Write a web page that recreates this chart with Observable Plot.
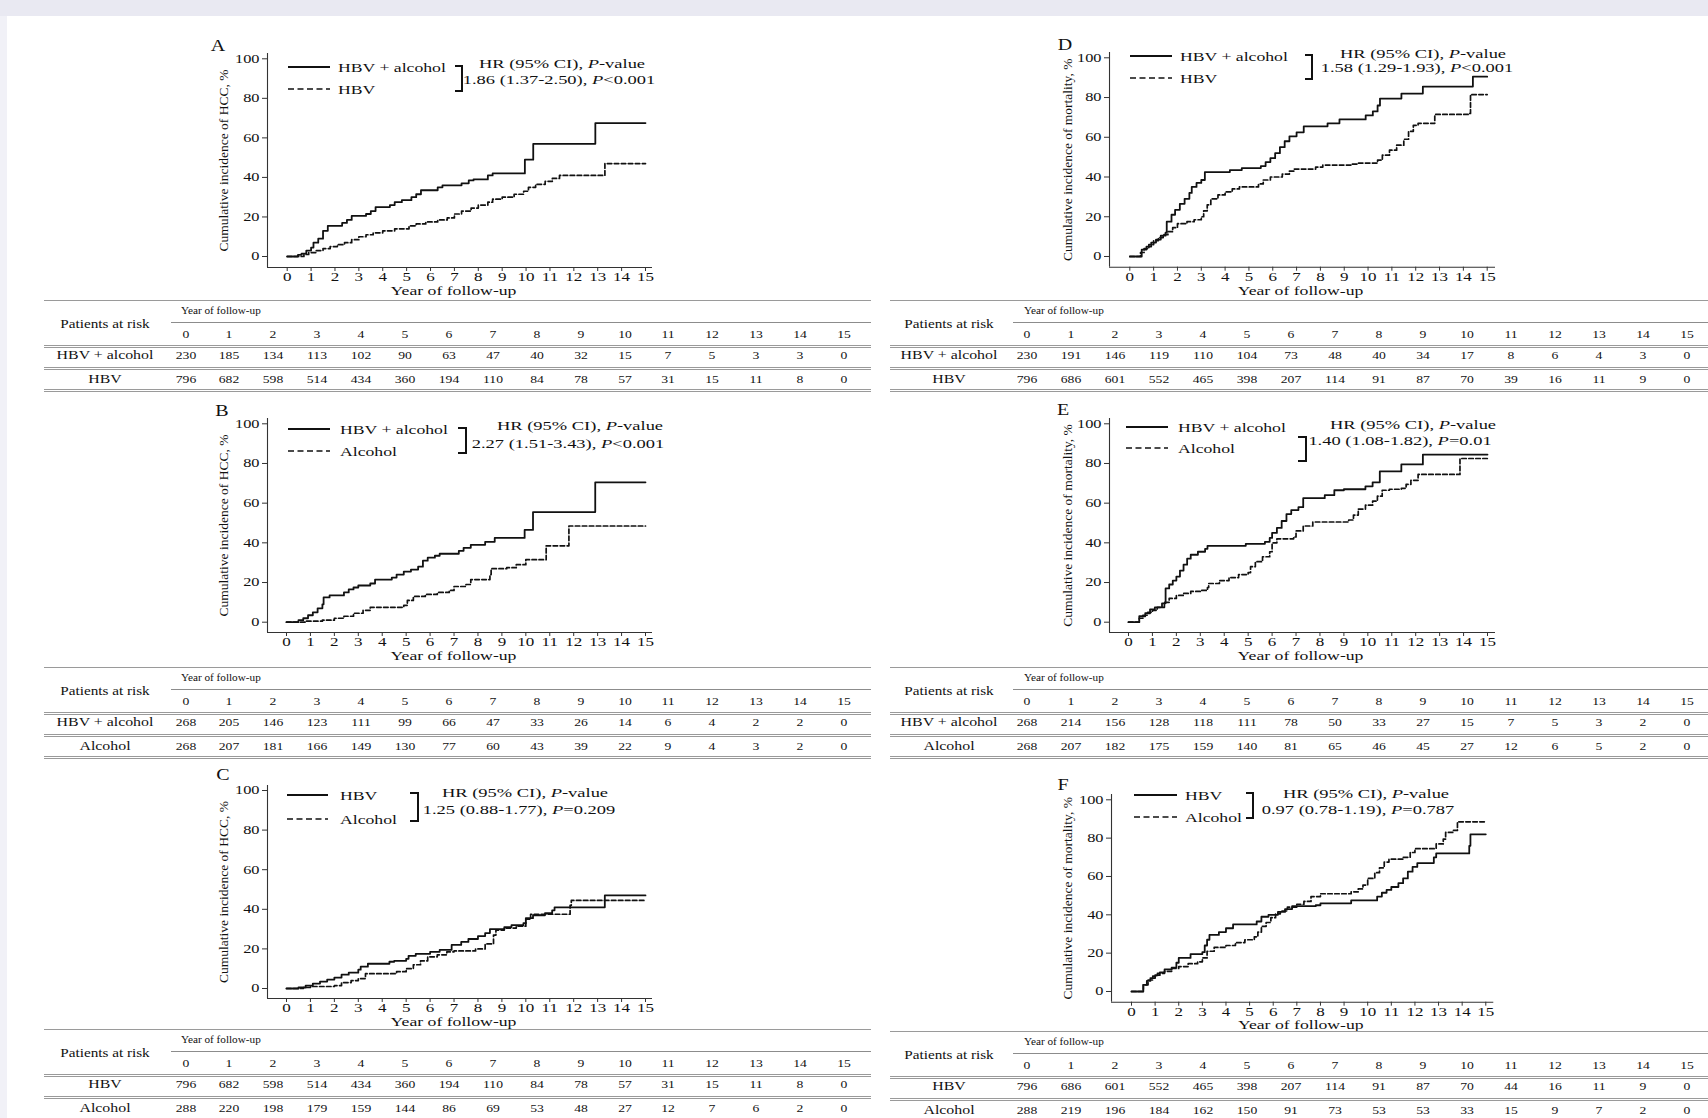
<!DOCTYPE html>
<html><head><meta charset="utf-8">
<script src="https://cdn.jsdelivr.net/npm/d3@7"></script>
<script src="https://cdn.jsdelivr.net/npm/@observablehq/plot@0.6"></script>
<style>
html,body{margin:0;padding:0;background:#fff;}
#page{position:relative;width:1708px;height:1118px;overflow:hidden;background:#fff;font-family:'Liberation Serif','Times New Roman',serif;color:#111;}
.t{position:absolute;white-space:nowrap;line-height:1;}
.rule{position:absolute;height:0;}
</style></head><body><div id="page"></div>
<script>
// ---------------- DATA ----------------
const years = [0,1,2,3,4,5,6,7,8,9,10,11,12,13,14,15];
const yTicks = [0,20,40,60,80,100];

// Panel A: HCC, HBV + alcohol vs HBV
const hccA_hbvAlc = [[0,0],[0.45,0.8],[0.6,1.5],[0.8,3],[1.0,4.5],[1.1,7],[1.3,9],[1.5,13],[1.7,15.5],[2.3,17],[2.5,18.5],[2.7,20.5],[3.3,21.5],[3.5,23],[3.7,25],[4.3,26],[4.5,27.5],[4.8,28.5],[5.2,30],[5.4,31.5],[5.6,33.5],[6.3,35],[6.5,36],[7.3,37],[7.6,38.5],[7.8,39],[8.4,41],[8.6,42],[9.95,49],[10.3,57],[12.9,67.5],[15,67.5]];
const hccA_hbv = [[0,0],[0.7,1],[0.9,2],[1.2,3],[1.5,4],[1.8,5],[2.1,6],[2.4,7],[2.7,8.5],[3.0,10],[3.3,11],[3.6,12],[4.0,13],[4.5,14],[5.1,15.5],[5.4,16.5],[5.8,17.5],[6.3,18.5],[6.7,19.5],[7.0,21.5],[7.3,23],[7.7,24.5],[8.0,26],[8.4,27.5],[8.6,29],[9.0,30],[9.5,31.5],[9.9,33],[10.1,35],[10.4,36.5],[10.8,38],[11.1,39.5],[11.4,41],[13.2,41],[13.3,47],[15,47]];
// Panel B: HCC, HBV + alcohol vs Alcohol
const hccB_hbvAlc = [[0,0],[0.5,1],[0.7,2],[0.9,3.5],[1.1,5],[1.3,7],[1.5,9],[1.55,12.5],[1.8,13.5],[2.4,15],[2.6,16.5],[2.8,17.5],[3.0,18.5],[3.5,19.5],[3.7,21.5],[4.4,22.5],[4.6,24],[4.9,25.5],[5.2,26.5],[5.5,28],[5.7,31],[5.9,32.5],[6.2,33.5],[6.4,34.5],[7.2,36],[7.4,37.5],[7.7,39],[8.3,40.5],[8.7,42.5],[9.95,46.5],[10.3,55.5],[12.9,70.5],[15,70.5]];
const hccB_alc = [[0,0],[0.8,0.5],[1.5,1],[2.0,2],[2.4,3],[2.8,4.5],[3.2,6],[3.5,7.5],[4.9,8.5],[5.05,11],[5.3,13],[5.8,14],[6.3,15],[6.8,16],[7.0,18],[7.5,19],[7.7,21.5],[8.5,24],[8.55,27],[9.2,27.5],[9.6,29],[10.0,31.5],[10.85,38.5],[11.8,48.5],[15,48.5]];
// Panel C: HCC, HBV vs Alcohol
const hccC_hbv = [[0,0],[0.5,0.5],[0.8,1.5],[1.1,2.5],[1.4,3.5],[1.7,4.5],[2.0,5.5],[2.3,7],[2.6,8],[3.0,9.5],[3.1,11],[3.4,12.5],[4.3,13.5],[4.5,14],[5.0,15],[5.1,16.5],[5.4,17.5],[6.0,18.5],[6.4,19.5],[6.9,22],[7.3,23.5],[7.6,25],[8.0,26.5],[8.3,28],[8.5,30],[9.1,31],[9.4,32],[9.9,33],[10.0,35.5],[10.3,37],[10.8,38],[11.1,39.5],[11.2,41],[13.2,41],[13.3,47],[15,47]];
const hccC_alc = [[0,0],[0.7,0.5],[1.0,1],[2.0,1.5],[2.3,3],[2.7,4],[3.0,5],[3.3,7.5],[4.6,8.5],[5.0,10],[5.3,12],[5.6,14],[5.9,16],[6.3,17],[6.7,18.5],[7.0,19],[7.9,20],[8.3,22.5],[8.65,27],[8.75,29.5],[9.1,30.5],[9.6,31.5],[10.0,35],[10.2,37.5],[11.85,42],[11.9,44.5],[15,44.5]];
// Panel D: mortality, HBV + alcohol vs HBV
const mortD_hbvAlc = [[0,0],[0.5,3.5],[0.7,5],[0.9,7],[1.1,8.5],[1.3,10.5],[1.5,12],[1.55,17.5],[1.75,21],[1.9,23.5],[2.1,26.5],[2.3,29],[2.5,32],[2.6,35],[2.8,37],[3.0,38.5],[3.15,42.5],[4.2,43.5],[4.7,44.5],[5.5,45.5],[5.7,47.5],[5.9,49.5],[6.1,52],[6.3,55],[6.5,58],[6.7,60.5],[7.0,62.5],[7.3,65.5],[8.3,67],[8.8,69],[9.9,71],[10.2,73],[10.4,76],[10.5,79.5],[11.4,82],[12.3,85.5],[14.4,90.5],[15,90.5]];
const mortD_hbv = [[0,0],[0.45,2],[0.6,4],[0.8,6],[1.0,8],[1.2,9.5],[1.4,11],[1.6,12.5],[1.8,14.5],[2.0,16.5],[2.4,17.5],[2.7,18.5],[3.0,20],[3.1,23],[3.25,26],[3.4,29],[3.7,31],[4.0,32.5],[4.3,34],[4.6,35],[5.4,36.5],[5.6,38.5],[5.9,40],[6.4,41.5],[6.7,43],[6.9,44],[7.8,45],[8.1,46],[9.3,46.5],[9.6,47],[10.4,48.5],[10.6,51],[10.9,53.5],[11.2,56],[11.5,59],[11.7,63],[11.9,66],[12.1,67],[12.8,71.5],[14.2,72],[14.3,81.5],[15,81.5]];
// Panel E: mortality, HBV + alcohol vs Alcohol
const mortE_hbvAlc = [[0,0],[0.45,3],[0.7,4.5],[0.9,6.5],[1.1,7.5],[1.4,9.5],[1.55,17],[1.7,19],[1.85,21],[2.0,23],[2.15,26],[2.3,29],[2.45,32],[2.6,34],[2.9,35.5],[3.2,37],[3.3,38.5],[4.9,39.5],[5.7,40.5],[5.9,42.5],[6.0,45],[6.2,47.5],[6.4,51],[6.6,54.5],[6.8,56.5],[7.1,58],[7.3,62.5],[8.2,64],[8.6,66.5],[9.0,67],[9.9,68.5],[10.2,70.5],[10.5,76],[11.4,79.5],[12.3,84.5],[15,84.5]];
const mortE_alc = [[0,0],[0.45,2],[0.6,3.5],[0.8,5],[1.0,6],[1.2,7.5],[1.5,10],[1.7,12],[2.0,13.5],[2.3,14.5],[2.6,15.5],[3.0,16],[3.3,17.5],[3.35,19.5],[3.8,21],[4.2,22.5],[4.6,24],[5.0,25],[5.1,28],[5.3,30.5],[5.6,33],[5.9,35.5],[6.0,40],[6.2,42],[6.9,43],[7.0,46],[7.3,48.5],[7.7,50.5],[9.2,51.5],[9.4,54],[9.6,57],[9.9,59],[10.2,61],[10.4,63.5],[10.6,66.5],[10.9,67],[11.4,67.5],[11.6,69.5],[11.8,71.5],[12.1,74.5],[13.85,82.5],[15,82.5]];
// Panel F: mortality, HBV vs Alcohol
const mortF_hbv = [[0,0],[0.5,3.5],[0.65,5.5],[0.8,7],[1.0,8.5],[1.2,10],[1.4,11.5],[1.7,12.5],[1.9,15],[2.0,17.5],[2.5,19.5],[3.0,20.5],[3.1,24],[3.2,27],[3.3,29.5],[3.7,31],[4.0,33],[4.3,35],[5.3,36.5],[5.5,39],[5.8,40],[6.2,41.5],[6.5,43],[6.8,44.5],[7.8,45],[8.0,46],[9.3,47.5],[10.4,49.5],[10.6,51.5],[10.8,53],[11.0,54.5],[11.3,56.5],[11.5,59],[11.7,62.5],[11.9,65],[12.1,67],[12.8,70],[12.9,72],[14.3,76],[14.35,82],[15,82]];
const mortF_alc = [[0,0],[0.5,3.5],[0.7,6],[0.9,8],[1.1,9.5],[1.4,10.5],[1.7,12],[2.0,13],[2.4,14.5],[2.8,15.5],[3.0,17.5],[3.2,21],[3.5,23],[4.0,24],[4.4,25.5],[4.8,27],[5.2,28.5],[5.35,31],[5.5,34],[5.7,36],[5.9,38.5],[6.1,40.5],[6.3,42],[6.6,44],[7.0,45.5],[7.3,47],[7.6,49.5],[8.0,51],[9.3,52],[9.6,53.5],[9.8,55.5],[10.0,59],[10.3,62],[10.5,64.5],[10.7,67.5],[10.9,69],[11.5,70],[11.8,72.5],[12.0,74.5],[12.9,77],[13.2,79.5],[13.3,83],[13.6,84],[13.8,88.5],[15,88.5]];

// Patients at risk
const riskA_hbvAlc = [230,185,134,113,102,90,63,47,40,32,15,7,5,3,3,0];
const riskA_hbv    = [796,682,598,514,434,360,194,110,84,78,57,31,15,11,8,0];
const riskB_hbvAlc = [268,205,146,123,111,99,66,47,33,26,14,6,4,2,2,0];
const riskB_alc    = [268,207,181,166,149,130,77,60,43,39,22,9,4,3,2,0];
const riskC_hbv    = [796,682,598,514,434,360,194,110,84,78,57,31,15,11,8,0];
const riskC_alc    = [288,220,198,179,159,144,86,69,53,48,27,12,7,6,2,0];
const riskD_hbvAlc = [230,191,146,119,110,104,73,48,40,34,17,8,6,4,3,0];
const riskD_hbv    = [796,686,601,552,465,398,207,114,91,87,70,39,16,11,9,0];
const riskE_hbvAlc = [268,214,156,128,118,111,78,50,33,27,15,7,5,3,2,0];
const riskE_alc    = [268,207,182,175,159,140,81,65,46,45,27,12,6,5,2,0];
const riskF_hbv    = [796,686,601,552,465,398,207,114,91,87,70,44,16,11,9,0];
const riskF_alc    = [288,219,196,184,162,150,91,73,53,53,33,15,9,7,2,0];

// Labels
const panelLetters = ["A","B","C","D","E","F"];
const groupNames = [["HBV + alcohol","HBV"],["HBV + alcohol","Alcohol"],["HBV","Alcohol"],["HBV + alcohol","HBV"],["HBV + alcohol","Alcohol"],["HBV","Alcohol"]];
const hrValues = ["1.86 (1.37-2.50), <i>P</i>&lt;0.001","2.27 (1.51-3.43), <i>P</i>&lt;0.001","1.25 (0.88-1.77), <i>P</i>=0.209","1.58 (1.29-1.93), <i>P</i>&lt;0.001","1.40 (1.08-1.82), <i>P</i>=0.01","0.97 (0.78-1.19), <i>P</i>=0.787"];
const yTitles = ["Cumulative incidence of HCC, %","Cumulative incidence of HCC, %","Cumulative incidence of HCC, %","Cumulative incidence of mortality, %","Cumulative incidence of mortality, %","Cumulative incidence of mortality, %"];
const xTitle = "Year of follow-up";

// ---------------- LAYOUT ----------------
const page = document.getElementById("page");
const K = 1.36;   // horizontal stretch of the type in the original
const INK = "#111";

const layouts = [
 {ax:267, x0:286.7, x15:645, xEnd:652, ay:267, y0:256, y100:58.3, yTop:53, ytx:223, xtx:453, xty:290,
  letter:[218,46], leg:{x1:288,x2:330,y1:67,y2:89,tx:338}, br:{x1:455,x2:462,y1:66,y2:91}, hr1:[562,63], hr2:[559,79]},
 {ax:267, x0:286, x15:645, xEnd:652, ay:632, y0:621.7, y100:423.3, yTop:418, ytx:223, xtx:453, xty:655,
  letter:[222,411], leg:{x1:288,x2:330,y1:429,y2:451,tx:340}, br:{x1:458,x2:466,y1:428,y2:453}, hr1:[580,425], hr2:[568,443]},
 {ax:267, x0:286, x15:645, xEnd:652, ay:998, y0:988, y100:790, yTop:785, ytx:223, xtx:453, xty:1021,
  letter:[223,775], leg:{x1:287,x2:328,y1:795,y2:819,tx:340}, br:{x1:410,x2:418,y1:793,y2:821}, hr1:[525,792], hr2:[519,809]},
 {ax:1109, x0:1129.3, x15:1486.7, xEnd:1495, ay:266.7, y0:256, y100:57.3, yTop:52, ytx:1067, xtx:1300, xty:290,
  letter:[1065,45], leg:{x1:1130,x2:1172,y1:56,y2:78,tx:1180}, br:{x1:1305,x2:1312,y1:55,y2:79}, hr1:[1423,53], hr2:[1417,67]},
 {ax:1109, x0:1128, x15:1487, xEnd:1495, ay:632, y0:621.7, y100:423.3, yTop:418, ytx:1067, xtx:1300, xty:655,
  letter:[1063,410], leg:{x1:1126,x2:1168,y1:427,y2:448,tx:1178}, br:{x1:1298,x2:1306,y1:437,y2:461}, hr1:[1413,424], hr2:[1400,440]},
 {ax:1110.7, x0:1130.7, x15:1485, xEnd:1493, ay:1001.7, y0:991, y100:799.3, yTop:794, ytx:1067, xtx:1300, xty:1024,
  letter:[1063,785], leg:{x1:1134,x2:1177,y1:795,y2:817,tx:1185}, br:{x1:1246,x2:1253,y1:793,y2:818}, hr1:[1366,793], hr2:[1358,809]}
];
const series = [[hccA_hbvAlc,hccA_hbv],[hccB_hbvAlc,hccB_alc],[hccC_hbv,hccC_alc],[mortD_hbvAlc,mortD_hbv],[mortE_hbvAlc,mortE_alc],[mortF_hbv,mortF_alc]];
const risks = [[riskA_hbvAlc,riskA_hbv],[riskB_hbvAlc,riskB_alc],[riskC_hbv,riskC_alc],[riskD_hbvAlc,riskD_hbv],[riskE_hbvAlc,riskE_alc],[riskF_hbv,riskF_alc]];
const tableTops = [300,667,1029,300,667,1031];
const tableSides = [
 {x1:44, x2:871, r2x:171, labX:105, yearX:181, c0:185.5, step:43.9},
 {x1:890, x2:1708, r2x:1013, labX:949, yearX:1024, c0:1027, step:44}
];

// ---------------- helpers ----------------
function addText(x, y, html, {size=13, anchor="start", k=K, weight="normal"}={}) {
  const d = document.createElement("div");
  d.className = "t";
  d.innerHTML = html;
  d.style.left = x + "px"; d.style.top = y + "px";
  d.style.fontSize = size + "px";
  d.style.fontWeight = weight;
  const tx = anchor === "start" ? "0" : anchor === "middle" ? "-50%" : "-100%";
  const ox = anchor === "start" ? "left" : anchor === "middle" ? "center" : "right";
  d.style.transformOrigin = ox + " center";
  d.style.transform = `translate(${tx}, -50%) scaleX(${k})`;
  page.appendChild(d);
}
function addRule(x1, x2, y, css) {
  const d = document.createElement("div");
  d.className = "rule";
  d.style.left = x1 + "px"; d.style.width = (x2 - x1) + "px"; d.style.top = y + "px";
  d.style.borderTop = css;
  page.appendChild(d);
}
function stretchSvgText(svg, k, skip) {
  svg.querySelectorAll("text").forEach(t => {
    if (skip.includes(t.textContent)) return;
    const tr = t.getAttribute("transform") || "";
    if (tr.includes("rotate")) return;
    const L = t.getComputedTextLength();
    if (L > 0) { t.setAttribute("textLength", (L * k).toFixed(2)); t.setAttribute("lengthAdjust", "spacingAndGlyphs"); }
  });
}

// background bands
(function(){
  const top = document.createElement("div");
  top.style.cssText = "position:absolute;left:0;top:0;width:1708px;height:16px;background:#e9e9f2;";
  page.appendChild(top);
  const left = document.createElement("div");
  left.style.cssText = "position:absolute;left:0;top:16px;width:7px;height:1102px;background:#f1f1f7;";
  page.appendChild(left);
})();

// overlay svg for legend swatches and brackets
const overlay = d3.create("svg").attr("width",1708).attr("height",1118)
  .style("position","absolute").style("left","0px").style("top","0px");
page.appendChild(overlay.node());

// ---------------- panels ----------------
layouts.forEach((L, i) => {
  const mL = 72, mR = 14, mT = 8, mB = 42;
  const W = (L.xEnd - L.ax) + mL + mR;
  const H = (L.ay - L.yTop) + mT + mB;
  const insetLeft = L.x0 - L.ax, insetRight = L.xEnd - L.x15;
  const insetBottom = L.ay - L.y0, insetTop = L.y100 - L.yTop;
  const [s1, s2] = series[i];
  const chart = Plot.plot({
    width: W, height: H,
    marginLeft: mL, marginRight: mR, marginTop: mT, marginBottom: mB,
    style: {background: "transparent", fontFamily: "'Liberation Serif','Times New Roman',serif", fontSize: "12px", color: INK, overflow: "visible"},
    x: {domain: [0, 15], insetLeft, insetRight},
    y: {domain: [0, 100], insetTop, insetBottom},
    marks: [
      Plot.ruleX([0], {dx: -insetLeft, stroke: "#333", strokeWidth: 1.1}),
      Plot.ruleY([0], {dy: insetBottom, stroke: "#333", strokeWidth: 1.1}),
      Plot.axisX({ticks: years, tickSize: 4, tickPadding: 1, tickFormat: d => String(d), label: null, stroke: "#333", fontSize: 12.5}),
      Plot.axisY({ticks: yTicks, tickSize: 5, tickPadding: 3, tickFormat: d => String(d), label: null, stroke: "#333", fontSize: 12}),
      Plot.text([yTitles[i]], {frameAnchor: "left", textAnchor: "middle", lineAnchor: "middle", rotate: -90, dx: L.ytx - L.ax, fontSize: 13.5}),
      Plot.text([xTitle], {frameAnchor: "bottom", textAnchor: "middle", lineAnchor: "middle", dy: L.xty - L.ay, dx: L.xtx - (L.ax + L.xEnd) / 2, fontSize: 13}),
      Plot.line(s1, {x: d => d[0], y: d => d[1], curve: "step-after", stroke: INK, strokeWidth: 1.8}),
      Plot.line(s2, {x: d => d[0], y: d => d[1], curve: "step-after", stroke: INK, strokeWidth: 1.7, strokeDasharray: "4.5,2.5"})
    ]
  });
  chart.style.position = "absolute";
  chart.style.left = (L.ax - mL) + "px";
  chart.style.top = (L.yTop - mT) + "px";
  page.appendChild(chart);
  stretchSvgText(chart, K, [yTitles[i]]);

  // panel letter
  addText(L.letter[0], L.letter[1], panelLetters[i], {size: 16, anchor: "middle", k: 1.25});
  // legend
  const g = L.leg;
  overlay.append("line").attr("x1", g.x1).attr("x2", g.x2).attr("y1", g.y1).attr("y2", g.y1)
    .attr("stroke", INK).attr("stroke-width", 1.9);
  overlay.append("line").attr("x1", g.x1).attr("x2", g.x2).attr("y1", g.y2).attr("y2", g.y2)
    .attr("stroke", INK).attr("stroke-width", 1.7).attr("stroke-dasharray", "6,3.5");
  addText(g.tx, g.y1, groupNames[i][0], {size: 13});
  addText(g.tx, g.y2, groupNames[i][1], {size: 13});
  // bracket
  const b = L.br;
  overlay.append("path").attr("d", `M${b.x1},${b.y1}H${b.x2}V${b.y2}H${b.x1}`)
    .attr("fill", "none").attr("stroke", INK).attr("stroke-width", 2);
  // HR text
  addText(L.hr1[0], L.hr1[1], "HR (95% CI), <i>P</i>-value", {size: 13, anchor: "middle", k: 1.42});
  addText(L.hr2[0], L.hr2[1], hrValues[i], {size: 13, anchor: "middle", k: 1.42});
});

// ---------------- risk tables ----------------
risks.forEach((rows, i) => {
  const S = tableSides[i < 3 ? 0 : 1];
  const T = tableTops[i];
  addRule(S.x1, S.x2, T, "1px solid #9a9a9a");
  addText(S.yearX, T + 11, "Year of follow-up", {size: 10, k: 1.12});
  addRule(S.r2x, S.x2, T + 21.5, "1.5px solid #8c8c8c");
  addText(S.labX, T + 25, "Patients at risk", {size: 11.5, anchor: "middle", k: 1.32});
  years.forEach((yr, j) => addText(S.c0 + S.step * j, T + 35, String(yr), {size: 10.5, anchor: "middle", k: 1.3}));
  addRule(S.x1, S.x2, T + 45, "3px double #9a9a9a");
  addText(S.labX, T + 56, groupNames[i][0], {size: 11.5, anchor: "middle", k: 1.38});
  rows[0].forEach((v, j) => addText(S.c0 + S.step * j, T + 56, String(v), {size: 10.5, anchor: "middle", k: 1.3}));
  addRule(S.x1, S.x2, T + 67, "3px double #9a9a9a");
  addText(S.labX, T + 80, groupNames[i][1], {size: 11.5, anchor: "middle", k: 1.38});
  rows[1].forEach((v, j) => addText(S.c0 + S.step * j, T + 80, String(v), {size: 10.5, anchor: "middle", k: 1.3}));
  addRule(S.x1, S.x2, T + 89, "3px double #9a9a9a");
});
</script></body></html>
